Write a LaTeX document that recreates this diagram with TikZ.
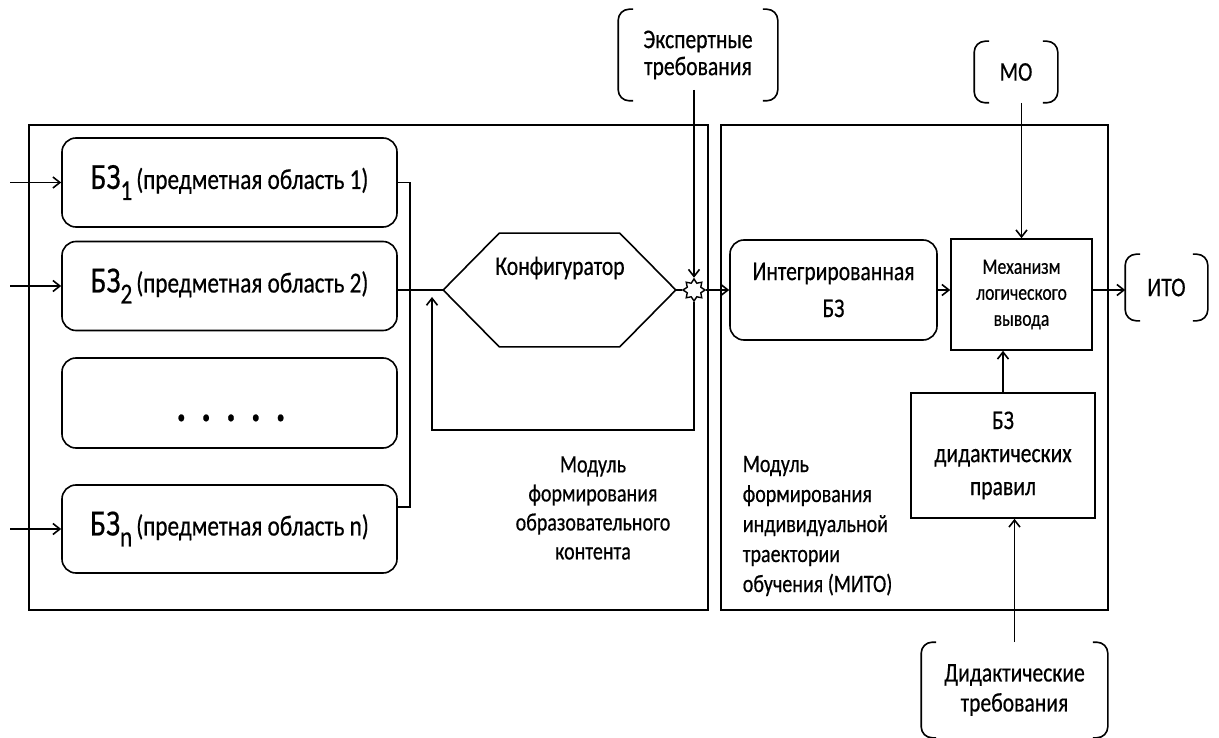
\documentclass[tikz,border=0pt]{standalone}
\usepackage{fontspec}
\setmainfont{Carlito}[FakeStretch=0.8,FakeBold=0.5]
\usetikzlibrary{arrows.meta,shapes.geometric,calc}
\newcommand\fsz[2]{\fontsize{#1}{#2}\selectfont}
\newcommand\drawbrk[1]{%
 \draw[brkline] ([xshift=15pt]#1.north west) -- (#1.north west) -- (#1.south west) -- ([xshift=15pt]#1.south west);
 \draw[brkline] ([xshift=-15pt]#1.north east) -- (#1.north east) -- (#1.south east) -- ([xshift=-15pt]#1.south east);}
\newcommand\bzlab[1]{{\fsz{37}{37}БЗ}\raisebox{-11pt}{\fsz{29}{29}#1}\hspace{4pt}{\fsz{29}{29}(предметная область #1)}}
\begin{document}
\begin{tikzpicture}[x=1pt,y=-1pt,line width=1.6pt,
  arr/.style={-{Straight Barb[length=7pt,width=11pt]}},
  rbox/.style={draw,rounded corners=14pt,inner sep=0pt,align=center},
  sbox/.style={draw,inner sep=0pt,align=center},
  brk/.style={inner sep=0pt,align=center},
  brkline/.style={rounded corners=11pt},
  modbox/.style={draw,inner sep=0pt},
  big/.style={font=\fsz{27}{27}},
]
\useasboundingbox (0,0) rectangle (1219,738);

% modules
\node[modbox,minimum width=679pt,minimum height=485pt] (modA) at (368.5,367.5) {};
\node[modbox,minimum width=387pt,minimum height=485pt] (modB) at (914.5,367.5) {};

% knowledge bases
\node[rbox,minimum width=335pt,minimum height=89pt] (bz1) at (229.5,182.5) {\bzlab{1}};
\node[rbox,minimum width=335pt,minimum height=89pt] (bz2) at (229.5,286) {\bzlab{2}};
\node[rbox,minimum width=335pt,minimum height=90pt] (bzd) at (229.5,403) {};
\node[anchor=base,inner sep=0pt,font=\fsz{46}{46}\bfseries] (dots) at (231,421) {.\hspace{15pt}.\hspace{15pt}.\hspace{15pt}.\hspace{15pt}.};
\node[rbox,minimum width=335pt,minimum height=88pt] (bzn) at (229.5,529) {\bzlab{n}};

\coordinate (in1) at (10,182.5);
\coordinate (in2) at (10,286);
\coordinate (inn) at (10,529);
\draw[arr] (in1) -- (bz1.west);
\draw[arr] (in2) -- (bz2.west);
\draw[arr] (inn) -- (bzn.west);

\coordinate (bnout) at ($(bzn.north east)+(0,23)$);
\draw (bz1.east) -| ($(bnout)+(12,0)$) -- (bnout);

% configurator
\node[minimum width=231pt,minimum height=112pt,inner sep=0pt] (conf) at (559.5,290) {};
\draw (conf.west) -- ([xshift=56pt]conf.north west) -- ([xshift=-56pt]conf.north east) -- (conf.east) -- ([xshift=-56pt]conf.south east) -- ([xshift=56pt]conf.south west) -- cycle;
\node[big] (conft) at (560,268) {Конфигуратор};
\draw (bz2.east |- conf.west) -- (conf.west);

% junction
\node[star,star points=8,star point ratio=1.5,draw,fill=white,minimum size=22pt,inner sep=0pt,line width=1.4pt] (jn) at (694,290) {};
\draw (conf.east) -- (jn);

% expert requirements
\node[brk,minimum width=158pt,minimum height=90pt,font=\fsz{27}{27}] (exp) at (698,55) {Экспертные\\требования};
\drawbrk{exp}
\coordinate (expo) at (694,90);
\draw[arr] (expo) -- (jn.north);

% feedback loop
\coordinate (fb1) at (694,430);
\coordinate (fb2) at (432,430);
\coordinate (fbt) at (432,297);
\draw[arr] (jn.south) -- (fb1) -- (fb2) -- (fbt);

% integrated KB
\node[rbox,minimum width=207pt,minimum height=100pt,font=\fsz{27}{37}] (integ) at (833.5,290) {Интегрированная\\БЗ};
\draw[arr] (jn.east) -- (integ.west);

% inference mechanism
\node[sbox,minimum width=141pt,minimum height=111pt,font=\fsz{22}{26}] (mech) at (1021.5,294.5) {Механизм\\логического\\вывода};
\draw[arr] (integ.east) -- (integ.east -| mech.west);

% MO
\node[brk,minimum width=82pt,minimum height=60pt,font=\fsz{27}{27}] (mo) at (1016,72) {МО};
\drawbrk{mo}
\draw[arr] (mo.south -| mech.north) -- (mech.north);

% ITO
\node[brk,minimum width=81pt,minimum height=65pt,font=\fsz{27}{27}] (ito) at (1166.5,287.5) {ИТО};
\drawbrk{ito}
\draw[arr] (integ.east -| mech.east) -- (integ.east -| ito.west);

% didactic rules
\node[sbox,minimum width=184pt,minimum height=125pt,font=\fsz{27}{33}] (rules) at (1003,455.5) {БЗ\\дидактических\\правил};
\draw[arr] (rules.north) -- (rules.north |- mech.south);

% didactic requirements
\node[brk,minimum width=185pt,minimum height=94pt,font=\fsz{27}{30}] (dreq) at (1014.5,690) {Дидактические\\требования};
\drawbrk{dreq}
\draw[arr] (dreq.north) -- (dreq.north |- rules.south);

% module labels
\node[font=\fsz{25}{29},align=center,inner sep=0pt] (labA) at (593,508) {Модуль\\формирования\\образовательного\\контента};
\node[font=\fsz{25}{30},align=left,inner sep=0pt,anchor=west] (labB) at (742,526) {Модуль\\формирования\\индивидуальной\\траектории\\обучения (МИТО)};
\end{tikzpicture}
\end{document}
